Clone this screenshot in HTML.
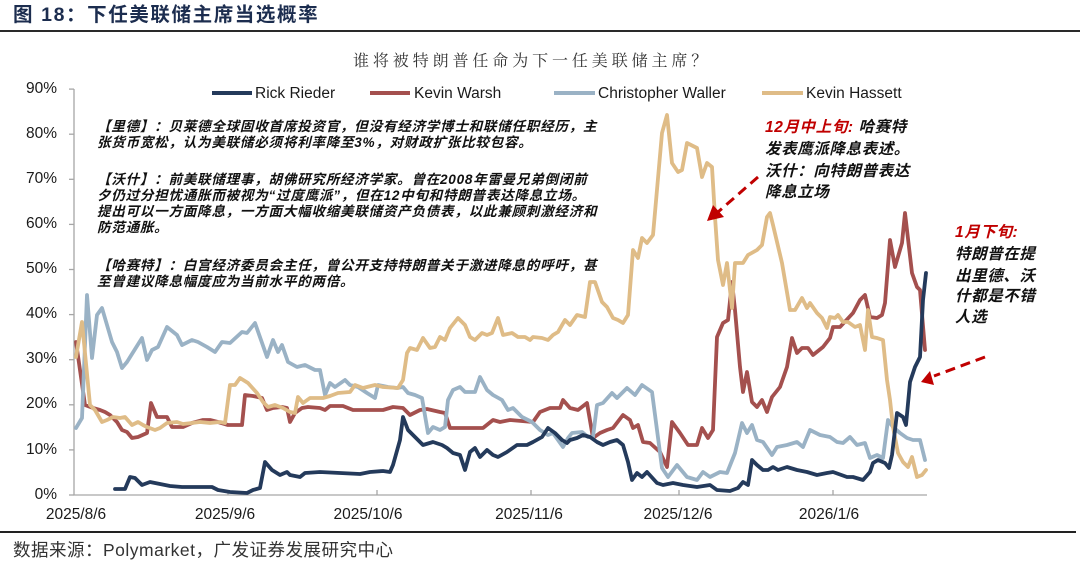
<!DOCTYPE html>
<html><head><meta charset="utf-8">
<style>
html,body{margin:0;padding:0;background:#fff;}
body{width:1080px;height:564px;position:relative;overflow:hidden;font-family:"Liberation Sans","Noto Sans CJK SC",sans-serif;}
.t{position:absolute;white-space:nowrap;line-height:20px;}
.ann{font-size:13.6px;letter-spacing:0.7px;font-style:italic;color:#111;font-family:"Liberation Sans","Noto Sans CJK SC",sans-serif;font-weight:bold;}
.ann2{font-size:15.5px;letter-spacing:0.6px;font-style:italic;color:#111;font-weight:bold;}
.red{color:#c00000;font-weight:bold;}
.yl{position:absolute;width:50px;left:7px;text-align:right;font-size:15.5px;color:#1a1a1a;line-height:18px;}
.xl{position:absolute;width:100px;text-align:center;font-size:15.5px;color:#1a1a1a;line-height:18px;top:506px;}
.lg{position:absolute;font-size:15.5px;color:#1a1a1a;line-height:18px;top:85px;}
</style></head><body>

<div class="t" style="left:13px;top:4px;font-size:19.5px;font-weight:bold;color:#1c2d4f;letter-spacing:1.6px;line-height:22px;">图&nbsp;18：下任美联储主席当选概率</div>
<div style="position:absolute;left:0;top:30px;width:1080px;height:2px;background:#2a2a2a;"></div>

<div class="t" style="left:353px;top:52px;font-size:16px;letter-spacing:3.9px;color:#333;font-family:'Liberation Serif','Noto Serif CJK SC',serif;">谁将被特朗普任命为下一任美联储主席？</div>

<svg width="1080" height="564" style="position:absolute;left:0;top:0;" xmlns="http://www.w3.org/2000/svg">
<g stroke="#a6a6a6" stroke-width="1.3" fill="none">
<line x1="74" y1="89" x2="74" y2="495.5"/>
<line x1="73.5" y1="495" x2="927" y2="495"/>
<line x1="69" y1="89.1" x2="74" y2="89.1"/>
<line x1="69" y1="134.2" x2="74" y2="134.2"/>
<line x1="69" y1="179.3" x2="74" y2="179.3"/>
<line x1="69" y1="224.4" x2="74" y2="224.4"/>
<line x1="69" y1="269.5" x2="74" y2="269.5"/>
<line x1="69" y1="314.6" x2="74" y2="314.6"/>
<line x1="69" y1="359.7" x2="74" y2="359.7"/>
<line x1="69" y1="404.8" x2="74" y2="404.8"/>
<line x1="69" y1="449.9" x2="74" y2="449.9"/>
<line x1="69" y1="495" x2="74" y2="495"/>
<line x1="228" y1="490" x2="228" y2="495"/>
<line x1="377" y1="490" x2="377" y2="495"/>
<line x1="531" y1="490" x2="531" y2="495"/>
<line x1="679" y1="490" x2="679" y2="495"/>
<line x1="833" y1="490" x2="833" y2="495"/>
</g>
<g fill="none" stroke-width="3.8" stroke-linejoin="round" stroke-linecap="round">
<polyline stroke="#a4504e" points="76,342 85,405 93,408 100,410 105,412 110,415 117,422 122,430 127,432 132,438 138,437 147,433 151,403 157,417 167,417 172,427 183,427 192,423 203,420 210,420 218,422 228,425 242,425 245,395 253,396 262,398 267,410 273,408 282,407 287,408 290,422 295,413 302,408 308,407 320,408 325,410 330,406 343,406 353,410 360,410 383,410 393,407 403,408 410,415 420,410 427,409 440,412 445,413 450,428 483,428 493,420 500,422 510,420 533,422 540,412 550,408 560,408 563,400 570,408 578,410 587,403 593,438 600,433 607,430 613,428 623,415 630,420 633,428 638,425 643,442 650,443 660,452 667,467 672,422 680,433 688,445 697,445 702,428 708,438 713,430 717,337 723,323 728,320 732,282 735,310 740,367 743,392 747,372 752,402 757,407 762,400 767,412 772,397 780,387 787,367 792,338 797,353 802,348 808,348 813,355 823,347 830,338 833,327 840,327 853,313 860,300 865,295 870,317 877,318 882,315 885,303 890,240 895,267 902,243 905,213 912,273 917,287 920,290 925,350"/>
<polyline stroke="#9ab2c5" points="76,428 82,418 87,295 92,358 97,315 102,308 112,342 117,352 122,368 127,362 142,338 147,360 152,350 158,347 167,327 177,335 182,345 192,340 198,342 207,347 215,352 222,342 230,343 242,332 247,333 255,323 267,357 273,340 278,352 282,345 288,362 297,367 305,365 315,370 320,370 325,395 330,383 335,387 345,380 350,385 358,387 367,393 375,398 378,385 388,387 397,388 403,387 408,393 415,395 422,398 428,433 433,427 440,430 445,427 448,400 453,390 460,387 465,392 475,392 480,377 487,390 493,395 502,400 508,410 513,408 522,417 532,422 540,430 548,435 553,433 558,440 563,447 568,438 572,433 582,432 588,437 593,437 597,405 603,403 612,393 617,398 627,388 635,395 642,385 652,392 662,468 668,477 677,465 687,477 697,480 703,472 710,477 720,472 727,473 735,453 742,423 747,433 752,425 757,440 763,442 772,455 777,447 787,445 797,442 803,447 810,430 820,435 830,437 837,442 843,443 850,437 857,445 865,443 870,458 877,455 883,458 888,420 893,427 900,433 907,438 913,440 920,440 925,460"/>
<polyline stroke="#dfbc87" points="76,357 82,322 85,353 90,405 95,410 102,422 107,420 113,417 120,418 125,417 132,425 138,422 143,425 147,427 155,430 160,428 167,423 177,422 183,424 192,423 200,422 210,423 220,422 225,423 230,385 235,385 240,378 248,383 257,393 263,402 268,407 275,405 283,408 290,412 295,413 298,397 303,403 310,398 323,398 330,396 338,393 350,392 355,385 363,388 375,385 383,387 398,388 403,380 407,353 410,348 417,350 423,338 430,348 435,347 440,337 445,340 450,328 458,318 465,325 470,337 475,340 482,333 487,335 492,333 498,318 503,335 512,333 518,337 525,337 530,340 533,337 542,338 548,340 553,335 558,332 565,320 570,325 577,315 585,317 590,282 595,282 602,302 607,307 613,318 618,320 623,323 628,315 633,250 638,258 642,238 647,243 653,235 662,133 667,115 672,163 678,172 682,170 687,143 697,148 702,177 707,163 712,167 715,217 718,260 723,285 727,263 732,308 735,263 743,263 748,255 757,250 762,245 767,217 770,213 773,225 782,263 790,310 795,310 802,298 807,308 810,303 817,313 822,318 827,328 830,317 835,318 838,315 843,322 848,322 855,327 860,325 865,350 868,310 872,337 877,338 883,340 887,380 890,400 893,427 898,453 903,462 908,467 912,457 917,477 922,475 926,470"/>
<polyline stroke="#243a5b" points="115,489 125,489 130,477 135,478 142,485 150,482 170,486 182,487 212,487 218,490 230,492 247,493 253,490 260,488 265,462 272,470 280,475 287,472 290,475 300,477 305,473 320,472 360,474 370,472 383,471 390,472 393,465 400,440 403,417 408,430 415,437 423,445 433,442 442,445 447,448 453,453 460,455 465,470 470,452 475,448 480,457 487,450 493,455 498,457 507,452 517,445 527,445 533,442 542,437 548,428 555,433 562,440 567,443 570,440 577,438 583,435 590,437 597,442 603,445 610,442 617,440 623,445 628,462 632,480 637,473 642,477 647,472 657,483 663,485 673,483 683,485 697,487 710,485 717,490 730,491 738,488 743,482 748,485 752,460 757,465 763,470 768,470 773,467 778,470 787,467 797,470 807,472 817,475 827,473 833,472 847,477 853,477 863,480 870,472 873,463 878,460 885,463 889,468 892,455 897,413 903,417 906,425 910,382 915,367 920,357 923,300 926,273"/>
</g>
<g stroke-width="4" stroke-linecap="butt">
<line x1="212" y1="93" x2="252" y2="93" stroke="#243a5b"/>
<line x1="370" y1="93" x2="410" y2="93" stroke="#a4504e"/>
<line x1="554" y1="93" x2="595" y2="93" stroke="#9ab2c5"/>
<line x1="762" y1="93" x2="803" y2="93" stroke="#dfbc87"/>
</g>
<g stroke="#c00000" stroke-width="3" stroke-dasharray="10,6" fill="none">
<line x1="758" y1="177" x2="718" y2="212"/>
<line x1="985" y1="357" x2="934" y2="376"/>
</g>
<g fill="#c00000">
<polygon points="707,221 713,205 724,217"/>
<polygon points="921,382 930,371 934,385"/>
</g>
</svg>

<div class="lg" style="left:255px;">Rick Rieder</div>
<div class="lg" style="left:414px;">Kevin Warsh</div>
<div class="lg" style="left:598px;">Christopher Waller</div>
<div class="lg" style="left:806px;">Kevin Hassett</div>

<div class="yl" style="top:80px;">90%</div>
<div class="yl" style="top:125px;">80%</div>
<div class="yl" style="top:170px;">70%</div>
<div class="yl" style="top:215px;">60%</div>
<div class="yl" style="top:260px;">50%</div>
<div class="yl" style="top:305px;">40%</div>
<div class="yl" style="top:350px;">30%</div>
<div class="yl" style="top:395px;">20%</div>
<div class="yl" style="top:441px;">10%</div>
<div class="yl" style="top:486px;">0%</div>

<div class="xl" style="left:26px;">2025/8/6</div>
<div class="xl" style="left:175px;">2025/9/6</div>
<div class="xl" style="left:318px;">2025/10/6</div>
<div class="xl" style="left:479px;">2025/11/6</div>
<div class="xl" style="left:628px;">2025/12/6</div>
<div class="xl" style="left:779px;">2026/1/6</div>

<div class="t ann" style="left:97px;top:117px;">【里德】：贝莱德全球固收首席投资官，但没有经济学博士和联储任职经历，主</div>
<div class="t ann" style="left:97px;top:133px;">张货币宽松，认为美联储必须将利率降至3%，对财政扩张比较包容。</div>
<div class="t ann" style="left:97px;top:170px;">【沃什】：前美联储理事，胡佛研究所经济学家。曾在2008年雷曼兄弟倒闭前</div>
<div class="t ann" style="left:97px;top:186px;">夕仍过分担忧通胀而被视为“过度鹰派”，但在12中旬和特朗普表达降息立场。</div>
<div class="t ann" style="left:97px;top:202px;">提出可以一方面降息，一方面大幅收缩美联储资产负债表，以此兼顾刺激经济和</div>
<div class="t ann" style="left:97px;top:218px;">防范通胀。</div>
<div class="t ann" style="left:97px;top:256px;">【哈赛特】：白宫经济委员会主任，曾公开支持特朗普关于激进降息的呼吁，甚</div>
<div class="t ann" style="left:97px;top:272px;">至曾建议降息幅度应为当前水平的两倍。</div>

<div class="t ann2" style="left:765px;top:118px;"><span class="red">12月中上旬:</span> 哈赛特</div>
<div class="t ann2" style="left:765px;top:140px;">发表鹰派降息表述。</div>
<div class="t ann2" style="left:765px;top:162px;">沃什：向特朗普表达</div>
<div class="t ann2" style="left:765px;top:183px;">降息立场</div>

<div class="t ann2" style="left:955px;top:223px;"><span class="red">1月下旬:</span></div>
<div class="t ann2" style="left:955px;top:245px;">特朗普在提</div>
<div class="t ann2" style="left:955px;top:267px;">出里德、沃</div>
<div class="t ann2" style="left:955px;top:287px;">什都是不错</div>
<div class="t ann2" style="left:955px;top:308px;">人选</div>

<div style="position:absolute;left:0;top:531px;width:1076px;height:2px;background:#222;"></div>
<div class="t" style="left:13px;top:540px;font-size:17.5px;color:#333;letter-spacing:0.5px;">数据来源：Polymarket，广发证券发展研究中心</div>
</body></html>
